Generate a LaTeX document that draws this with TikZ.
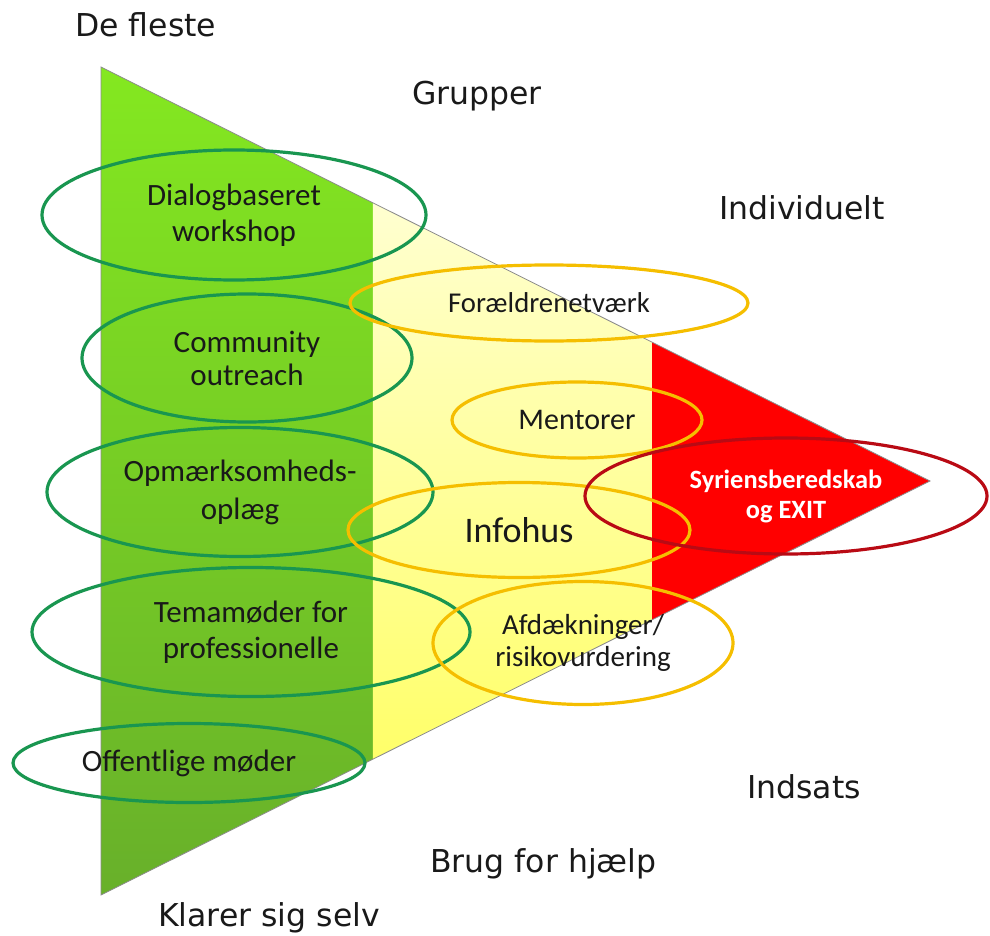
\documentclass[tikz,border=0pt]{standalone}
\usepackage{fontspec}
\setmainfont{Carlito}
\newfontfamily\dvs{DejaVu Sans}
\usetikzlibrary{shapes.geometric,calc}
\definecolor{gtop}{RGB}{132,232,32}
\definecolor{gbot}{RGB}{104,176,42}
\definecolor{ytop}{RGB}{255,255,208}
\definecolor{ybot}{RGB}{255,255,105}
\definecolor{rfill}{RGB}{255,0,0}
\definecolor{gline}{RGB}{25,150,80}
\definecolor{yline}{RGB}{245,190,0}
\definecolor{rline}{RGB}{185,10,20}
\definecolor{txt}{RGB}{25,25,25}
\begin{document}
\begin{tikzpicture}[x=1pt,y=-1pt,
  oval/.style={ellipse, line width=3.2pt, inner sep=0pt, align=center, text=txt},
  goval/.style={oval, draw=gline},
  yoval/.style={oval, draw=yline},
  roval/.style={oval, draw=rline, text=white},
  inner/.style={font=\fontsize{31}{36}\selectfont},
  outer/.style={font=\dvs\fontsize{31.5}{36}\selectfont, text=txt, anchor=base west, inner sep=0pt},
]
\useasboundingbox (0,0) rectangle (990,936);
\coordinate (T) at (101,67);
\coordinate (B) at (101,895);
\coordinate (A) at (930,481);
\coordinate (g1) at ($(T)!0.3281!(A)$);
\coordinate (g2) at ($(B)!0.3281!(A)$);
\coordinate (y1) at ($(T)!0.6647!(A)$);
\coordinate (y2) at ($(B)!0.6647!(A)$);
% bands
\shade[top color=gtop, bottom color=gbot] (T) -- (g1) -- (g2) -- (B) -- cycle;
\shade[top color=ytop, bottom color=ybot] (g1) -- (y1) -- (y2) -- (g2) -- cycle;
\fill[rfill] (y1) -- (A) -- (y2) -- cycle;
\draw[line width=0.8pt, draw=black!45] (T) -- (A) -- (B) -- cycle;
% green ovals
\node[goval, inner, minimum width=384pt, minimum height=130pt] (dia) at (234,215) {Dialogbaseret\\workshop};
\node[goval, font=\fontsize{31}{33}\selectfont, minimum width=330pt, minimum height=128pt] (com) at (247,358) {Community\\outreach};
\node[goval, font=\fontsize{31}{38}\selectfont, minimum width=386pt, minimum height=129pt] (opm) at (240,492) {Opmærksomheds-\\oplæg};
\node[goval, inner, minimum width=438pt, minimum height=129pt] (tem) at (251,632) {Temamøder for\\professionelle};
\node[goval, inner, minimum width=352pt, minimum height=79pt] (off) at (189,763) {Offentlige møder};
% yellow ovals
\node[yoval, font=\fontsize{28.7}{33}\selectfont, minimum width=398pt, minimum height=76pt] (for) at (549,303) {Forældrenetværk};
\node[yoval, font=\fontsize{30}{34}\selectfont, minimum width=250pt, minimum height=76pt] (men) at (577,420) {Mentorer};
\node[yoval, font=\fontsize{36}{40}\selectfont, minimum width=342pt, minimum height=95pt] (inf) at (519,530) {Infohus};
\node[yoval, font=\fontsize{29}{32}\selectfont, minimum width=300pt, minimum height=123pt] (afd) at (583,643) {Afdækninger/\\risikovurdering};
% red oval
\node[roval, font=\bfseries\fontsize{26.4}{30}\selectfont, minimum width=402pt, minimum height=116pt] (syr) at (786,496) {Syriensberedskab\\og EXIT};
% outer labels
\node[outer] (l1) at (75,37) {De fleste};
\node[outer] (l2) at (412,105) {Grupper};
\node[outer] (l3) at (719,219) {Individuelt};
\node[outer] (l4) at (747,798) {Indsats};
\node[outer] (l5) at (430,872) {Brug for hjælp};
\node[outer] (l6) at (158,926) {Klarer sig selv};
\end{tikzpicture}
\end{document}
